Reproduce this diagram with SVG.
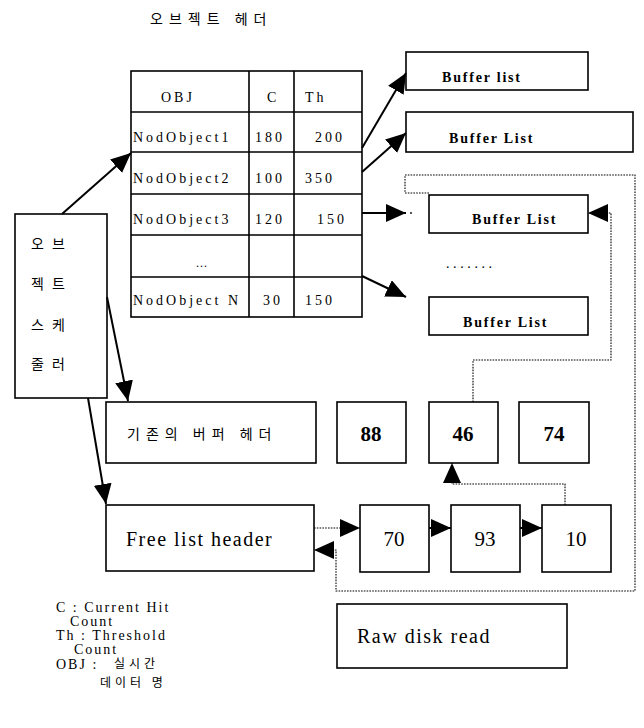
<svg xmlns="http://www.w3.org/2000/svg" width="644" height="728" viewBox="0 0 644 728">
  <style>
    .box { fill: #fff; stroke: #000; stroke-width: 1.6; }
    .grid { stroke: #000; stroke-width: 1.6; fill: none; }
    .solid { stroke: #000; stroke-width: 2; fill: none; }
    .dot { stroke: #000; stroke-width: 1.1; stroke-dasharray: 1.6 1.2; fill: none; }
    .t { font-family: "Liberation Serif", "Times New Roman", serif; fill: #000; }
    .k { font-family: "Noto Sans CJK KR", sans-serif; fill: #000; }
    .tbl { font-size: 14px; letter-spacing: 3px; }
    .buf { font-size: 14px; font-weight: bold; letter-spacing: 1.8px; }
    .num { font-size: 21px; text-anchor: middle; }
    .big { font-size: 20px; letter-spacing: 1.5px; }
    .leg { font-size: 14px; letter-spacing: 2px; }
  </style>
  <defs>
    <marker id="head" markerUnits="userSpaceOnUse" viewBox="0 0 20 18" refX="20" refY="9" markerWidth="20" markerHeight="18" orient="auto">
      <path d="M0,0 L20,9 L0,18 z" fill="#000"/>
    </marker>
  </defs>

  <!-- title -->
  <text class="k" x="150" y="24" font-size="14" letter-spacing="6">오브젝트 헤더</text>

  <!-- object header table -->
  <g id="object-table">
    <rect class="box" x="131" y="71" width="231" height="246"/>
    <path class="grid" d="M249,71 V317 M294,71 V317 M131,112 H362 M131,152 H362 M131,194 H362 M131,235 H362 M131,277 H362"/>
    <text class="t tbl" x="161" y="102">OBJ</text>
    <text class="t tbl" x="267" y="102">C</text>
    <text class="t tbl" x="305" y="102">Th</text>
    <text class="t tbl" x="133" y="142">NodObject1</text>
    <text class="t tbl" x="255" y="142">180</text>
    <text class="t tbl" x="315" y="142">200</text>
    <text class="t tbl" x="133" y="183">NodObject2</text>
    <text class="t tbl" x="255" y="183">100</text>
    <text class="t tbl" x="305" y="183">350</text>
    <text class="t tbl" x="133" y="224">NodObject3</text>
    <text class="t tbl" x="255" y="224">120</text>
    <text class="t tbl" x="317" y="224">150</text>
    <text class="t" x="196" y="267" font-size="12" letter-spacing="1">...</text>
    <text class="t tbl" x="133" y="305">NodObject N</text>
    <text class="t tbl" x="263" y="305">30</text>
    <text class="t tbl" x="305" y="305">150</text>
  </g>

  <!-- buffer lists -->
  <g id="buffer-list-1">
    <rect class="box" x="406" y="52" width="182" height="38"/>
    <text class="t buf" x="442" y="82">Buffer list</text>
  </g>
  <g id="buffer-list-2">
    <rect class="box" x="406" y="112" width="227" height="40"/>
    <text class="t buf" x="449" y="143">Buffer List</text>
  </g>
  <g id="buffer-list-3">
    <rect class="box" x="429" y="195" width="159" height="38"/>
    <text class="t buf" x="472" y="224">Buffer List</text>
  </g>
  <g id="ellipsis">
    <text class="t" x="446" y="268" font-size="14" letter-spacing="3.6">.......</text>
  </g>
  <g id="buffer-list-4">
    <rect class="box" x="429" y="297" width="159" height="38"/>
    <text class="t buf" x="463" y="327">Buffer List</text>
  </g>

  <!-- object scheduler -->
  <g id="scheduler">
    <rect class="box" x="15" y="214" width="92" height="184"/>
    <text class="k" x="31" y="249" font-size="14" letter-spacing="8">오브</text>
    <text class="k" x="31" y="289" font-size="14" letter-spacing="8">젝트</text>
    <text class="k" x="31" y="330" font-size="14" letter-spacing="8">스케</text>
    <text class="k" x="31" y="369" font-size="14" letter-spacing="8">줄러</text>
  </g>

  <!-- existing buffer header row -->
  <g id="buffer-header">
    <rect class="box" x="106" y="402" width="210" height="61"/>
    <text class="k" x="127" y="439" font-size="14" letter-spacing="6">기존의 버퍼 헤더</text>
  </g>
  <g id="buf-88">
    <rect class="box" x="337" y="402" width="69" height="61"/>
    <text class="t num" x="371" y="441" font-weight="bold">88</text>
  </g>
  <g id="buf-46">
    <rect class="box" x="429" y="402" width="69" height="61"/>
    <text class="t num" x="463" y="441" font-weight="bold">46</text>
  </g>
  <g id="buf-74">
    <rect class="box" x="519" y="402" width="70" height="61"/>
    <text class="t num" x="554" y="441" font-weight="bold">74</text>
  </g>

  <!-- free list row -->
  <g id="free-list-header">
    <rect class="box" x="106" y="505" width="208" height="66"/>
    <text class="t big" x="126" y="546">Free list header</text>
  </g>
  <g id="free-70">
    <rect class="box" x="360" y="505" width="69" height="67"/>
    <text class="t num" x="394" y="546">70</text>
  </g>
  <g id="free-93">
    <rect class="box" x="451" y="505" width="69" height="67"/>
    <text class="t num" x="485" y="546">93</text>
  </g>
  <g id="free-10">
    <rect class="box" x="542" y="505" width="69" height="67"/>
    <text class="t num" x="576" y="546">10</text>
  </g>

  <g id="raw-disk-read">
    <rect class="box" x="337" y="604" width="230" height="64"/>
    <text class="t big" x="357" y="643" letter-spacing="2.1">Raw disk read</text>
  </g>

  <!-- legend -->
  <g id="legend">
    <text class="t leg" x="56" y="612">C : Current Hit</text>
    <text class="t leg" x="70" y="626">Count</text>
    <text class="t leg" x="56" y="640">Th : Threshold</text>
    <text class="t leg" x="74" y="654">Count</text>
    <text class="t leg" x="56" y="669">OBJ :</text>
    <text class="k" x="114" y="668" font-size="12" letter-spacing="4">실시간</text>
    <text class="k" x="100" y="687" font-size="12" letter-spacing="4">데이터  명</text>
  </g>

  <!-- connectors -->
  <g id="connectors">
    <line class="solid" x1="362" y1="148" x2="406" y2="73" marker-end="url(#head)"/>
    <line class="solid" x1="362" y1="172" x2="406" y2="133" marker-end="url(#head)"/>
    <line class="solid" x1="362" y1="213" x2="406" y2="213" marker-end="url(#head)"/>
    <circle cx="411" cy="213" r="0.9" fill="#000"/>
    <line class="solid" x1="362" y1="276" x2="406" y2="297" marker-end="url(#head)"/>

    <line class="solid" x1="62" y1="214" x2="131" y2="153" marker-end="url(#head)"/>
    <line class="solid" x1="107" y1="297" x2="128" y2="401" marker-end="url(#head)"/>
    <line class="solid" x1="88" y1="398" x2="106" y2="504" marker-end="url(#head)"/>

    <line class="dot" x1="314" y1="528" x2="360" y2="528" marker-end="url(#head)"/>
    <line class="solid" x1="429" y1="528" x2="451" y2="528" marker-end="url(#head)"/>
    <line class="solid" x1="520" y1="528" x2="542" y2="528" marker-end="url(#head)"/>

    <polyline class="dot" points="565,505 565,484 452,484 452,463" marker-end="url(#head)"/>
    <polyline class="dot" points="473,402 473,360 611,360 611,213 588,213" marker-end="url(#head)"/>
    <polyline class="dot" points="429,193 405,193 405,175 635,175 635,591 336,591 336,550 314,550" marker-end="url(#head)"/>
  </g>
</svg>
